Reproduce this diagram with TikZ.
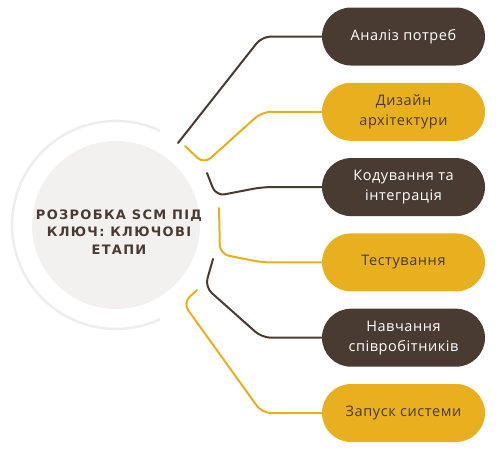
\documentclass[tikz,border=0pt]{standalone}
\usepackage{fontspec}
\setmainfont{Open Sans}[LetterSpace=4]
\newfontfamily\titlefont{DejaVu Sans}[LetterSpace=10]
\definecolor{darkb}{HTML}{4A3B32}
\definecolor{gold}{HTML}{E8AF1F}
\definecolor{disc}{HTML}{F2F1F0}
\definecolor{ring}{HTML}{EDEDED}
\tikzset{
  stage/.style={minimum width=163pt, minimum height=58pt, rounded corners=29pt, align=center, font=\fontsize{14.5}{20}\selectfont, inner sep=0pt},
  darkstage/.style={stage, fill=darkb, text=white},
  goldstage/.style={stage, fill=gold, text=darkb},
  dlink/.style={draw=darkb, line width=2pt, rounded corners=9pt, line cap=round},
  glink/.style={draw=gold, line width=2pt, rounded corners=9pt, line cap=round},
}
\begin{document}
\begin{tikzpicture}[x=1pt,y=-1pt]
\useasboundingbox (0,0) rectangle (500,450);
% ring and disc
\draw[draw=ring, line width=2.5pt] (160,130.7) arc[start angle=-65, end angle=-295, radius=104];
\node[circle, fill=disc, minimum size=168pt, inner sep=0pt] (disc) at (116,225) {};
\node[align=center, text=darkb, font=\titlefont\bfseries\fontsize{13}{17.5}\selectfont] (title) at (119,232)
  {РОЗРОБКА SCM ПІД\\КЛЮЧ: КЛЮЧОВІ\\ЕТАПИ};
% stages
\node[darkstage] (s1) at (403.5,36.5) {Аналіз потреб};
\node[goldstage] (s2) at (403.5,111.8) {Дизайн\\архітектури};
\node[darkstage] (s3) at (403.5,187.1) {Кодування та\\інтеграція};
\node[goldstage] (s4) at (403.5,262.4) {Тестування};
\node[darkstage] (s5) at (403.5,337.7) {Навчання\\співробітників};
\node[goldstage] (s6) at (403.5,413) {Запуск системи};
% connector ends
\coordinate (e1) at (178,143);
\coordinate (e2) at (185,146);
\coordinate (e3) at (207,173);
\coordinate (e4) at (219,208);
\coordinate (e5) at (213,259);
\coordinate (e6) at (197,290);
% connectors
\draw[dlink] (s1.west) -- (262,36.5) -- (e1);
\draw[glink] (s2.west) -- (262,111.8) -- (204,164) -- (e2);
\draw[dlink] (s3.west) -- (262,187.1) -- (216,196) -- (e3);
\draw[glink] (s4.west) -- (262,262.4) -- (220,254) -- (e4);
\draw[dlink] (s5.west) -- (262,337.7) -- (205,287) -- (e5);
\draw[glink] (s6.west) -- (262,413) -- (183,303) -- (e6);
\end{tikzpicture}
\end{document}
